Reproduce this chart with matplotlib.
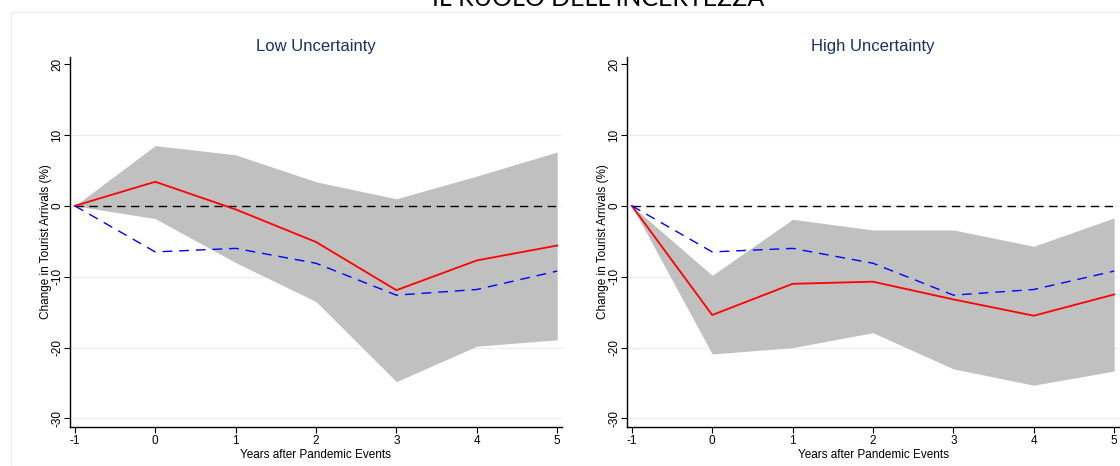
import matplotlib
matplotlib.use("Agg")
import matplotlib.pyplot as plt
from matplotlib.patches import Rectangle

plt.rcParams['font.family'] = ['Liberation Sans', 'DejaVu Sans']

years = [-1, 0, 1, 2, 3, 4, 5]
xticks = [-1, 0, 1, 2, 3, 4, 5]
yticks = [-30, -20, -10, 0, 10, 20]

# Low uncertainty panel
low_est = [0, 3.4, -0.5, -5.1, -11.9, -7.7, -5.6]
low_upper = [0, 8.5, 7.2, 3.4, 1.0, 4.2, 7.6]
low_lower = [0, -1.8, -8.0, -13.5, -24.8, -19.8, -18.9]

# High uncertainty panel
high_est = [0, -15.4, -11.0, -10.7, -13.2, -15.5, -12.5]
high_upper = [0, -9.8, -1.9, -3.4, -3.4, -5.7, -1.7]
high_lower = [0, -20.9, -20.0, -17.9, -23.0, -25.3, -23.3]

# Baseline (blue dashed), same in both panels
baseline = [0, -6.5, -6.0, -8.1, -12.6, -11.8, -9.2]

panels = [
    ("Low Uncertainty", low_est, low_upper, low_lower),
    ("High Uncertainty", high_est, high_upper, high_lower),
]

W, H = 1120, 466
fig = plt.figure(figsize=(W / 100, H / 100), dpi=100)

# faint outer frame of the graph region
fig.patches.append(Rectangle((11 / W, 0), 1.2, 1 - 12 / H, transform=fig.transFigure,
                             fill=False, edgecolor='#ececec', linewidth=0.8))

fig.text(598 / W, 1 - 6 / H, "IL RUOLO DELL'INCERTEZZA", ha='center', va='baseline',
         fontsize=18, family=['Lato', 'DejaVu Sans'], color='black')

ax_lefts = [70, 627]
ax_w = 492
ax_top, ax_bot = 57, 427

for (title, est, up, lo), left in zip(panels, ax_lefts):
    ax = fig.add_axes([left / W, (H - ax_bot) / H, ax_w / W, (ax_bot - ax_top) / H])
    ax.set_xlim(-1.06, 5.06)
    ax.set_ylim(-31.2, 21.0)
    for g in [-30, -20, -10, 0, 10]:
        ax.axhline(g, color='#e6eff1', linewidth=0.9, zorder=0)
    ax.fill_between(years, lo, up, color='#c0c0c0', linewidth=0, zorder=1)
    ax.plot(years, [0] * len(years), color='black', linewidth=1.0,
            dashes=(6, 4), zorder=2)
    ax.plot(years, est, color='#ff0000', linewidth=1.3, zorder=3)
    ax.plot(years, baseline, color='#0000ff', linewidth=1.0, dashes=(7, 5), zorder=3)

    ax.set_title(title, fontsize=12, color='#1a3060', pad=4)
    ax.set_xticks(xticks)
    ax.set_xticklabels([str(v) for v in xticks])
    ax.set_yticks(yticks)
    ax.set_yticklabels([str(v) for v in yticks], rotation=90, va='center')
    ax.tick_params(axis='both', labelsize=8.5, length=4, width=0.8, direction='out', pad=2)
    ax.tick_params(axis='y', pad=1)
    ax.set_xlabel('Years after Pandemic Events', fontsize=8.5, labelpad=1)
    ax.set_ylabel('Change in Tourist Arrivals (%)', fontsize=8.5, labelpad=-1)
    for s in ['top', 'right']:
        ax.spines[s].set_visible(False)
    for s in ['left', 'bottom']:
        ax.spines[s].set_linewidth(1.0)

fig.savefig('out.png', dpi=100)
